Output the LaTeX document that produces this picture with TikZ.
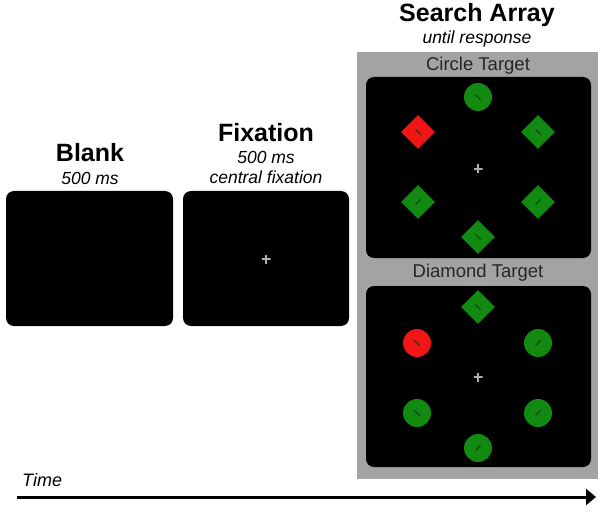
\documentclass[tikz,border=0pt]{standalone}
\usepackage{fontspec}
\setmainfont{Liberation Sans}
\usetikzlibrary{shapes.geometric,arrows.meta}
\definecolor{stimgreen}{RGB}{18,138,18}
\definecolor{stimred}{RGB}{240,22,22}
\definecolor{panelgray}{RGB}{163,163,163}
\definecolor{crossgray}{RGB}{175,175,175}
\definecolor{tickdark}{RGB}{20,50,20}
\tikzset{
  screen/.style={fill=black, draw=none, rounded corners=8pt, minimum width=#1, minimum height=135pt, inner sep=0pt},
  bigtitle/.style={font=\fontsize{25}{28}\selectfont\bfseries, inner sep=0pt},
  subtitle/.style={font=\fontsize{17.5}{20}\selectfont\itshape, inner sep=0pt},
  paneltitle/.style={font=\fontsize{18.5}{21}\selectfont, inner sep=0pt, text=black!85},
  fixcross/.style={minimum size=9pt, inner sep=0pt, path picture={\draw[line width=1.3pt, crossgray] (path picture bounding box.north) -- (path picture bounding box.south) (path picture bounding box.west) -- (path picture bounding box.east);}},
  tickback/.style={path picture={\draw[line width=0.8pt, tickdark] ([xshift=-2.5pt,yshift=2.5pt]path picture bounding box.center) -- ([xshift=2.5pt,yshift=-2.5pt]path picture bounding box.center);}},
  tickfwd/.style={path picture={\draw[line width=0.8pt, tickdark] ([xshift=-2.5pt,yshift=-2.5pt]path picture bounding box.center) -- ([xshift=2.5pt,yshift=2.5pt]path picture bounding box.center);}},
  gcirc/.style={circle, fill=stimgreen, draw=none, minimum size=28pt, inner sep=0pt},
  rcirc/.style={circle, fill=stimred, draw=none, minimum size=28pt, inner sep=0pt},
  gdia/.style={diamond, fill=stimgreen, draw=none, minimum width=34pt, minimum height=34pt, inner sep=0pt},
  rdia/.style={diamond, fill=stimred, draw=none, minimum width=34pt, minimum height=34pt, inner sep=0pt},
}
\begin{document}
\begin{tikzpicture}[x=1pt,y=-1pt]
\useasboundingbox[fill=white] (0,0) rectangle (602,513);
% gray search-array frame
\node[fill=panelgray, draw=none, minimum width=241pt, minimum height=427pt, inner sep=0pt] (frame) at (477.5,265.5) {};
% titles
\node[bigtitle] (tblank) at (90,153) {Blank};
\node[subtitle] (sblank) at (90,178) {500 ms};
\node[bigtitle] (tfix) at (266,133) {Fixation};
\node[subtitle] (sfix1) at (266,157) {500 ms};
\node[subtitle] (sfix2) at (266,177) {central fixation};
\node[bigtitle] (tsearch) at (477,15) {Search Array};
\node[subtitle] (ssearch) at (477,39) {until response};
\node[paneltitle] (tcircle) at (478,66) {Circle Target};
\node[paneltitle] (tdiamond) at (478,273) {Diamond Target};
% screens
\node[screen=167pt] (blank) at (89.5,258.5) {};
\node[screen=166pt] (fix) at (266,258.5) {};
\node[fixcross] (fixc) at (266,259) {};
\node[screen=225pt, minimum height=181pt] (scrA) at (478.5,167.5) {};
\node[screen=225pt, minimum height=181pt] (scrB) at (478.5,376.5) {};
% circle target array
\node[gcirc, tickback] (a1) at (478,97) {};
\node[rdia, tickback] (a2) at (418,132) {};
\node[gdia, tickback] (a3) at (538,132) {};
\node[fixcross] (ac) at (478,169) {};
\node[gdia, tickfwd] (a4) at (418,202) {};
\node[gdia, tickfwd] (a5) at (538,202) {};
\node[gdia, tickback] (a6) at (478,237) {};
% diamond target array
\node[gdia, tickback] (b1) at (478,307) {};
\node[rcirc, tickback] (b2) at (417,343) {};
\node[gcirc, tickfwd] (b3) at (538,343) {};
\node[fixcross] (bc) at (478,377) {};
\node[gcirc, tickback] (b4) at (417,413) {};
\node[gcirc, tickfwd] (b5) at (538,413) {};
\node[gcirc, tickfwd] (b6) at (478,448) {};
% time arrow
\node[font=\fontsize{18}{20}\selectfont\itshape, anchor=west, inner sep=0pt] (time) at (22,480) {Time};
\coordinate (t0) at (17,497);
\coordinate (t1) at (596,497);
\draw[line width=3pt, -{Triangle[length=10pt,width=16pt]}] (t0) -- (t1);
\end{tikzpicture}
\end{document}
